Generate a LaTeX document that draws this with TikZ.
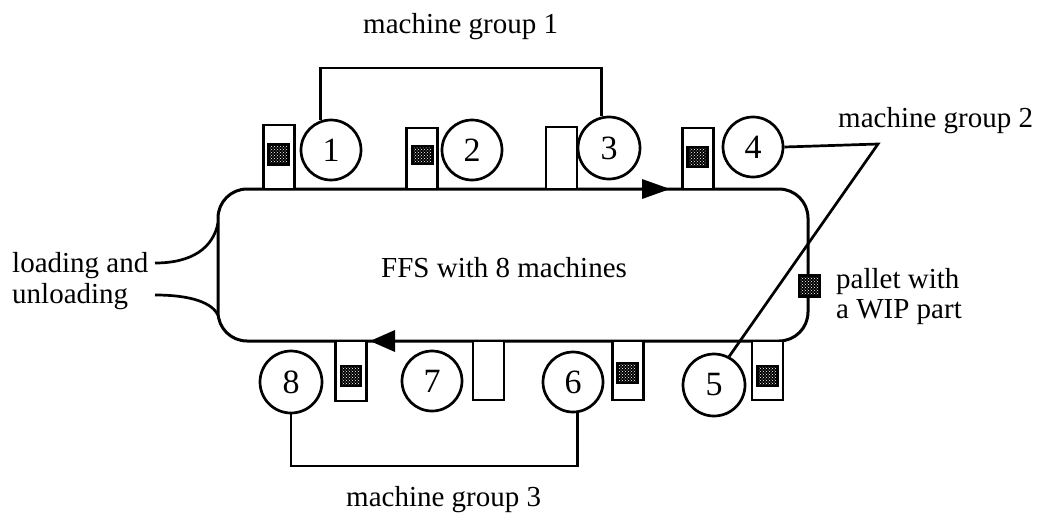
\documentclass[tikz,border=0pt]{standalone}
\usepackage{fontspec}
\setmainfont{Liberation Serif}
\usetikzlibrary{patterns}
\begin{document}
\begin{tikzpicture}[x=1pt,y=-1pt,
  lbl/.style={anchor=base west, inner sep=0pt, font=\fontsize{29}{30}\selectfont},
  mach/.style={draw, circle, line width=2.7pt, minimum size=60pt, inner sep=0pt, font=\fontsize{34}{34}\selectfont},
  pbox/.style={draw, fill=white, line width=2.7pt, minimum width=31pt, inner sep=0pt},
  part/.style={draw, line width=2.5pt, minimum width=20pt, minimum height=20pt, inner sep=0pt,
    preaction={fill=black}, pattern=crosshatch dots, pattern color=white},
  wire/.style={line width=2.7pt},
  flow/.style={fill=black},
]
\useasboundingbox (0,0) rectangle (1040,523);

% transport loop
\node[draw, line width=3pt, rounded corners=29pt, minimum width=590pt, minimum height=152pt] (loop) at (513,265) {};
\node[lbl] (ffs) at (381,277) {FFS with 8 machines};

% flow direction on the loop
\fill[flow] (642,179) -- (670,189) -- (642,199) -- cycle;
\fill[flow] (395,330) -- (370,341) -- (395,352) -- cycle;

% buffer stations, upper side
\node[pbox, minimum height=64pt] (b1) at (279,157) {};
\node[pbox, minimum height=61pt] (b2) at (422,158.5) {};
\node[pbox, minimum height=62pt] (b3) at (561.5,158) {};
\node[pbox, minimum height=61pt] (b4) at (698,158.5) {};
% buffer stations, lower side
\node[pbox, minimum height=59pt] (b5) at (767.5,370.5) {};
\node[pbox, minimum height=59pt] (b6) at (628,370.5) {};
\node[pbox, minimum height=59pt] (b7) at (488.5,370.5) {};
\node[pbox, minimum height=60pt] (b8) at (351,371) {};

% pallets carrying parts
\node[part] (p1) at (278.5,154.5) {};
\node[part, minimum height=18pt] (p2) at (422.5,155) {};
\node[part] (p4) at (697.5,157) {};
\node[part] (p5) at (767.5,376) {};
\node[part] (p6) at (627.5,373) {};
\node[part] (p8) at (351,376) {};
\node[part, minimum width=21pt, minimum height=21pt] (pr) at (809.5,286) {};

% machines
\node[mach] (m1) at (331,150) {1};
\node[mach] (m2) at (472,150) {2};
\node[mach, minimum size=62pt] (m3) at (609,148) {3};
\node[mach] (m4) at (753,147) {4};
\node[mach, minimum size=62pt] (m5) at (714,385) {5};
\node[mach] (m6) at (573,382) {6};
\node[mach] (m7) at (432,381) {7};
\node[mach, minimum size=62pt] (m8) at (291,382) {8};

% labels
\node[lbl] (t1) at (363,33) {machine group 1};
\node[lbl] (t2) at (838,127) {machine group 2};
\node[lbl] (t3) at (346,506) {machine group 3};
\node[lbl] (ld1) at (12,272) {loading and};
\node[lbl] (ld2) at (12,303) {unloading};
\node[lbl] (pw1) at (836,288) {pallet with};
\node[lbl] (pw2) at (836,318) {a WIP part};

% group brackets
\coordinate (g1) at (460,68);
\coordinate (g2) at (878,144);
\coordinate (g3) at (435,466);
\draw[wire] (m1.109) |- (g1) -| (m3.103);
\draw[wire] (m4.east) -- (g2) -- (m5.62);
\draw[wire] (m8.south) |- (g3) -| (m6.-82);

% load/unload station
\coordinate (la) at (155,263);
\coordinate (lb) at (155,295);
\coordinate (ea) at (218,223);
\coordinate (eb) at (218,315);
\draw[wire] (la) .. controls (192,263) and (213,248) .. (ea);
\draw[wire] (lb) .. controls (192,295) and (212,303) .. (eb);
\end{tikzpicture}
\end{document}
